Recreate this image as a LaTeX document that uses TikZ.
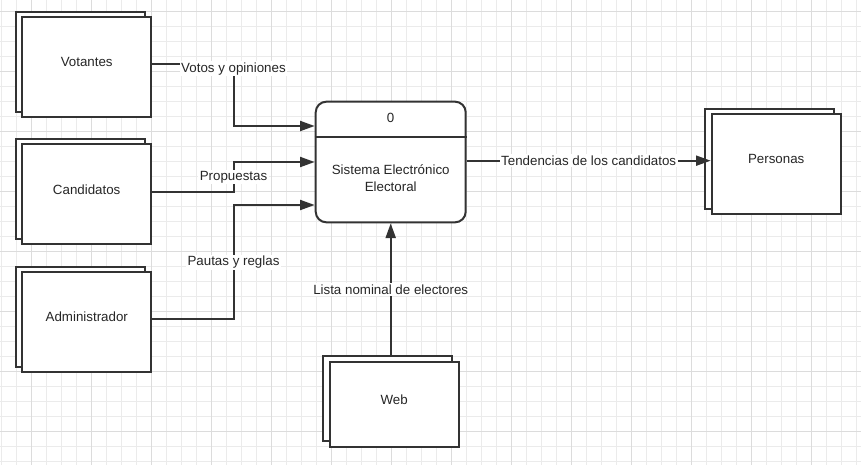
\documentclass[tikz,border=0pt]{standalone}
\usepackage{fontspec}
\setmainfont{Liberation Sans}
\usetikzlibrary{arrows.meta,shadows,positioning}

\definecolor{lin}{HTML}{333333}
\definecolor{gridmin}{HTML}{EBEBEB}
\definecolor{gridmaj}{HTML}{DCDCDC}

\tikzset{
  ext/.style={draw=lin, line width=1.5pt, fill=white, text=black!85,
    minimum width=96.75pt, minimum height=75pt, text depth=7.5pt,
    copy shadow={shadow xshift=-5pt, shadow yshift=4pt, draw=lin, fill=white, line width=1.5pt}},
  proc/.style={draw=lin, line width=1.5pt, fill=white, rounded corners=8pt,
    minimum width=112.5pt, minimum height=90.5pt},
  flow/.style={draw=lin, line width=1.5pt, -{Triangle[length=11pt,width=7.5pt]}},
  lbl/.style={fill=white, inner sep=1pt, text=black!85}
}

\begin{document}
\begin{tikzpicture}[x=0.75pt, y=-0.75pt, font=\fontsize{10pt}{13pt}\selectfont]
    \useasboundingbox (0,0) rectangle (861,465);

    % grid
    \foreach \gx in {1.7,16.7,...,860} \draw[gridmin, line width=0.75pt] (\gx,0) -- (\gx,465);
    \foreach \gy in {11.7,26.7,...,465} \draw[gridmin, line width=0.75pt] (0,\gy) -- (861,\gy);
    \foreach \gx in {31.7,91.7,...,860} \draw[gridmaj, line width=0.75pt] (\gx,0) -- (\gx,465);
    \foreach \gy in {11.7,71.7,...,465} \draw[gridmaj, line width=0.75pt] (0,\gy) -- (861,\gy);

    \node[ext] (vot) at (86.7,67) {Votantes};
    \node[ext] (can) at (86.7,194.3) {Candidatos};
    \node[ext] (adm) at (86.8,322) {Administrador};
    \node[ext, minimum height=63.75pt] (web) at (394.2,404.2) {Web};
    \node[ext] (per) at (776.2,164.2) {Personas};

    \node[proc] (sis) at (390.7,162) {};
    \draw[lin, line width=1.5pt] ([yshift=-27pt]sis.north west) -- ([yshift=-27pt]sis.north east);
    \node[text=black!85] (num) at (390.7,118.3) {0};
    \node[text=black!85, align=center] (systxt) at (390.7,178) {Sistema Electrónico\\Electoral};

    \coordinate (bus) at (233.5,0);
    \coordinate (vin) at ([yshift=27pt]sis.west);
    \coordinate (cin) at (sis.west);
    \coordinate (ain) at ([yshift=-32.25pt]sis.west);

    \draw[flow] ([yshift=2pt]vot.east) -| node[lbl, yshift=-3.2pt] {Votos y opiniones} (bus |- vin) -- (vin);
    \draw[flow] ([yshift=2pt]can.east) -| node[lbl, pos=0.75] {Propuestas} (bus |- cin) -- (cin);
    \draw[flow] ([yshift=2pt]adm.east) -| node[lbl, pos=0.75] {Pautas y reglas} (bus |- ain) -- (ain);
    \draw[flow] ([yshift=3.75pt]sis.south |- web.north) -- node[lbl] {Lista nominal de electores} (sis.south);
    \draw[flow] ([yshift=1pt]sis.east) -- node[lbl] {Tendencias de los candidatos} ([yshift=1pt]sis.east -| per.west);

\end{tikzpicture}
\end{document}
